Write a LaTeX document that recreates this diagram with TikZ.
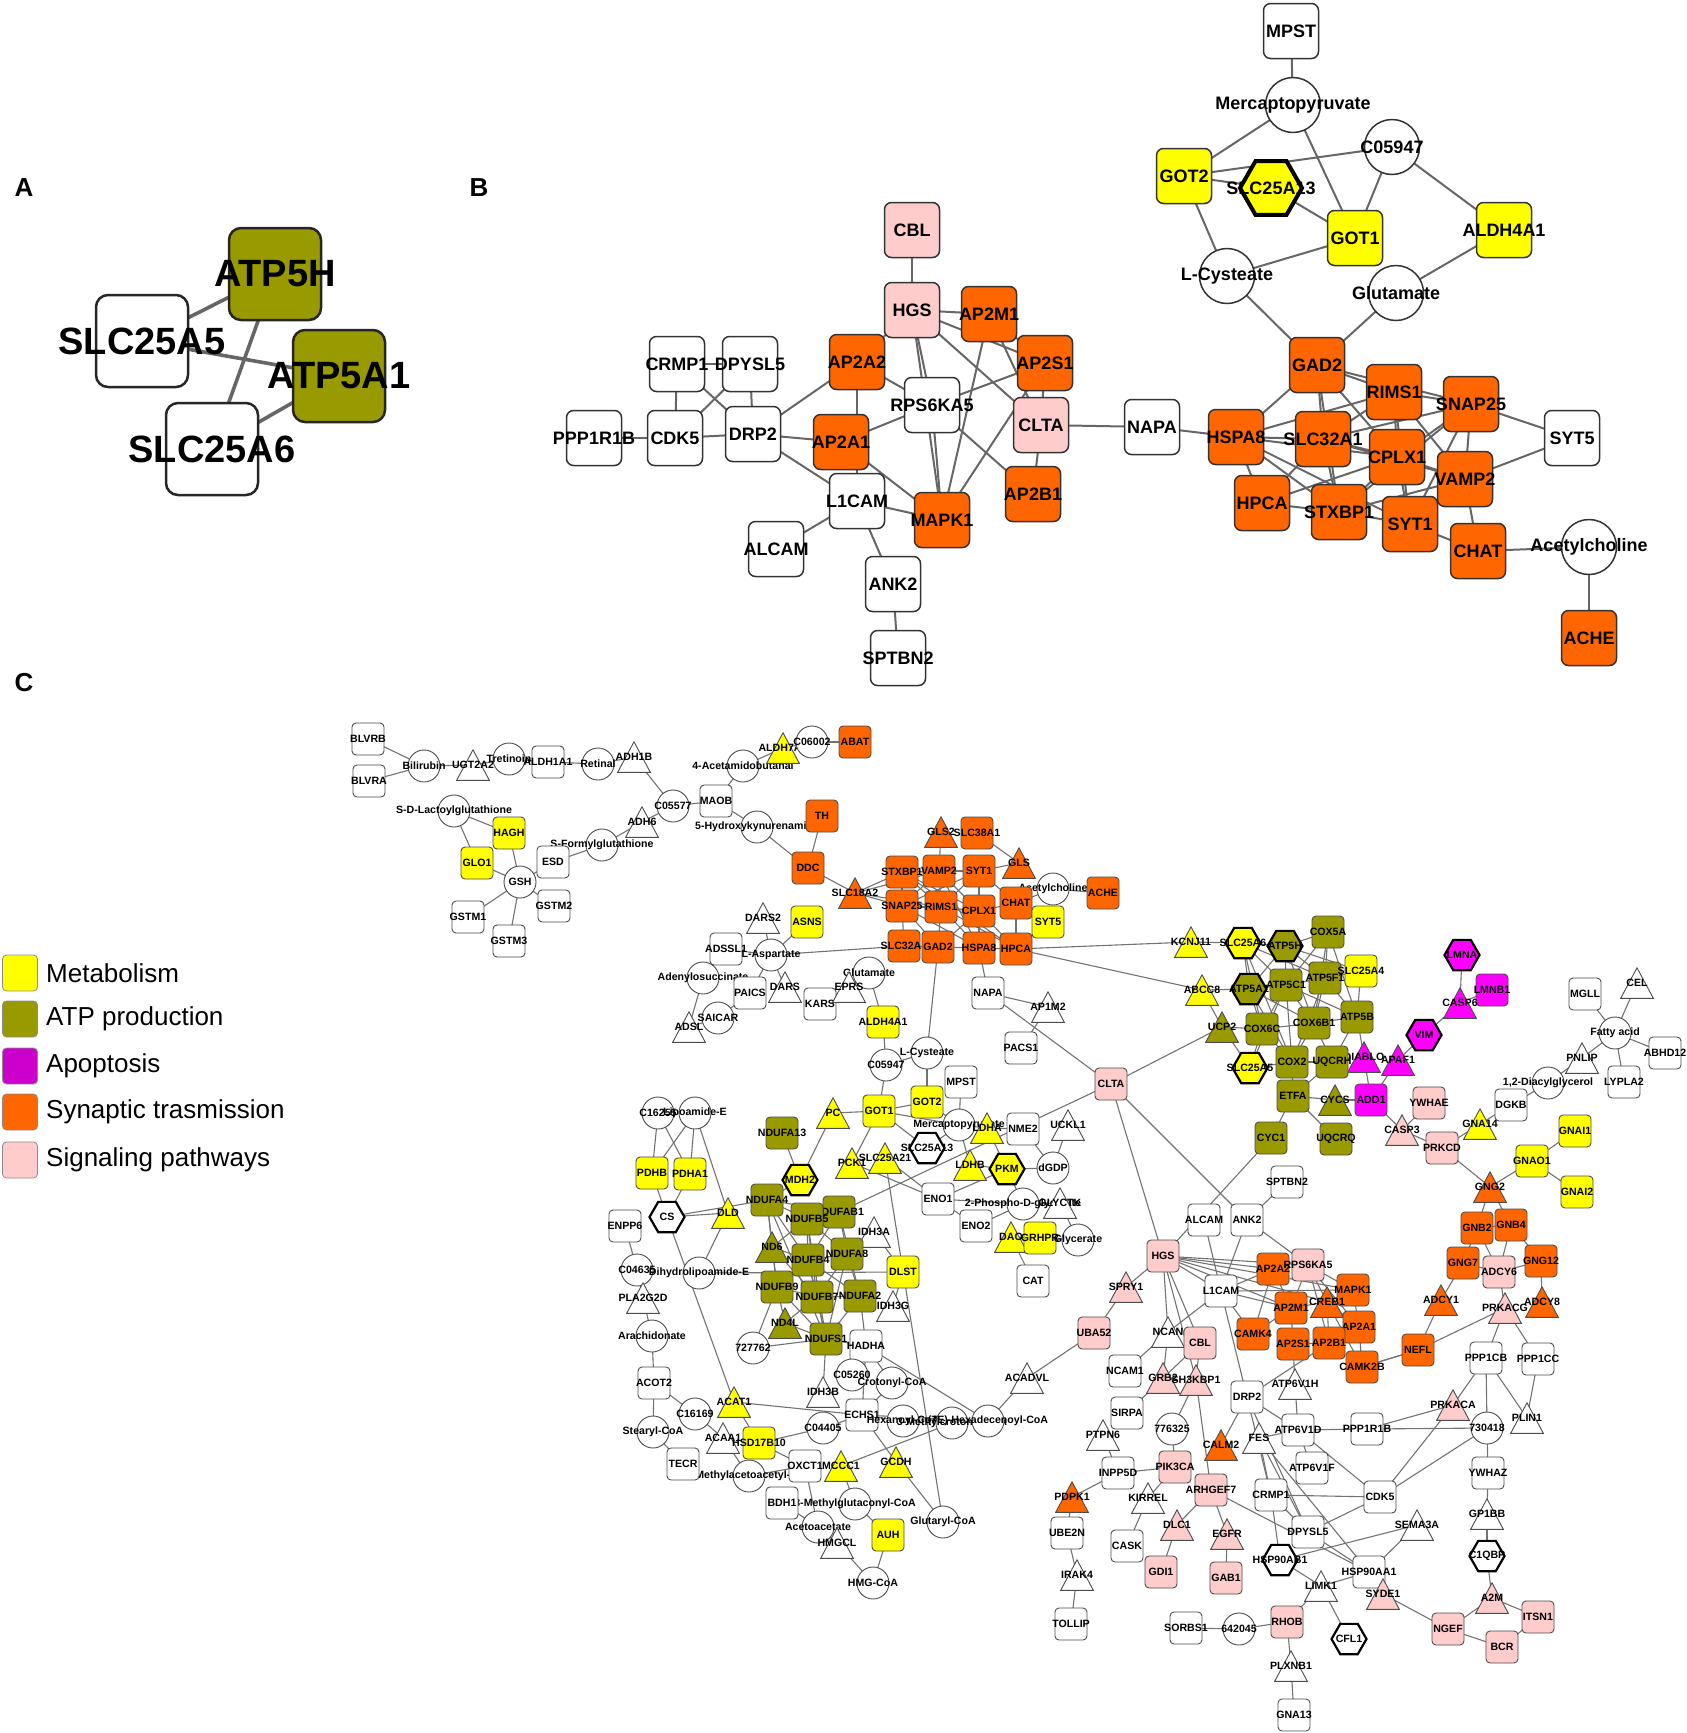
\documentclass[tikz,border=0pt]{standalone}
\usepackage{fontspec}
\setmainfont{Liberation Sans}
\usetikzlibrary{shapes.geometric}
\pgfdeclarelayer{back}\pgfdeclarelayer{bg}\pgfsetlayers{back,bg,main}
\definecolor{cY}{RGB}{255,255,0}
\definecolor{olv}{RGB}{153,153,0}
\definecolor{cM}{RGB}{255,0,255}
\definecolor{cLM}{RGB}{204,0,204}
\definecolor{cS}{RGB}{255,102,0}
\definecolor{cP}{RGB}{255,204,204}
\newcommand\zl[1]{\hbox to 0pt{\hss#1\hss}}
\tikzset{
 cf/.style={font=\fontsize{10.6pt}{11pt}\selectfont\bfseries, inner sep=0pt, text=black},
 cbx/.style={cf, rectangle, rounded corners=4pt, minimum width=32pt, minimum height=32pt, draw=black!70, line width=0.9pt, fill=#1},
 cci/.style={cf, circle, minimum size=32pt, draw=black!70, line width=0.9pt, fill=#1},
 chx/.style={cf, regular polygon, regular polygon sides=6, minimum size=35pt, draw=black, line width=2.2pt, fill=#1},
 ctr/.style={cf, rectangle, minimum width=34pt, minimum height=32pt,
   path picture={\draw[black!70, line width=0.9pt, fill=#1]
     ([xshift=0.6pt,yshift=0.6pt]path picture bounding box.south west) --
     ([xshift=-0.6pt,yshift=0.6pt]path picture bounding box.south east) --
     ([yshift=-0.8pt]path picture bounding box.north) -- cycle;}},
 bf/.style={font=\fontsize{18pt}{19pt}\selectfont\bfseries, inner sep=0pt, text=black},
 bbx/.style={bf, rectangle, rounded corners=7pt, minimum size=55pt, draw=black!80, line width=1.5pt, fill=#1},
 bci/.style={bf, circle, minimum size=55pt, draw=black!80, line width=1.5pt, fill=#1},
 bhx/.style={bf, regular polygon, regular polygon sides=6, minimum size=62pt, draw=black, line width=4pt, fill=#1},
 abx/.style={rectangle, rounded corners=12pt, minimum size=92pt, draw=black!85, line width=2.5pt, fill=#1, inner sep=0pt, font=\fontsize{38pt}{38pt}\selectfont\bfseries},
 ed/.style={draw=black!55, line width=1.1pt},
 edb/.style={draw=black!60, line width=2pt},
 eda/.style={draw=black!60, line width=3.6pt},
 lgb/.style={rectangle, rounded corners=4pt, minimum width=35pt, minimum height=36pt, draw=black!45, line width=0.8pt, fill=#1},
 lgt/.style={anchor=west, inner sep=0pt, font=\fontsize{26pt}{27pt}\selectfont},
 pl/.style={font=\fontsize{26pt}{26pt}\selectfont\bfseries, inner sep=0pt}
}
\newcommand\Cbx[4][white]{\node[cbx=#1] (#2) at (#3) {\zl{#4}};}
\newcommand\Cci[4][white]{\node[cci=#1] (#2) at (#3) {\zl{#4}};}
\newcommand\Ctr[4][white]{\node[ctr=#1] (#2) at (#3) {\zl{#4}};}
\newcommand\Chx[4][white]{\node[chx=#1] (#2) at (#3) {\zl{#4}};}
\newcommand\Bbx[4][white]{\node[bbx=#1] (#2) at (#3) {\zl{#4}};}
\newcommand\Bci[4][white]{\node[bci=#1] (#2) at (#3) {\zl{#4}};}
\newcommand\Bhx[4][white]{\node[bhx=#1] (#2) at (#3) {\zl{#4}};}
\newcommand\Eg[2][ed]{\begin{pgfonlayer}{bg}\foreach \a/\b in {#2}{\draw[#1] (\a.center) -- (\b.center);}\end{pgfonlayer}}
\begin{document}
\begin{tikzpicture}[x=1pt,y=-1pt]
\begin{pgfonlayer}{back}
\fill[white] (0,0) rectangle (1687,1733);
\end{pgfonlayer}
\useasboundingbox (0,0) rectangle (1687,1733);
% panel labels
\node[pl] (labA) at (24,188) {A};
\node[pl] (labB) at (479,188) {B};
\node[pl] (labC) at (24,683) {C};
% ================= Panel A
\node[abx=white] (aslc5) at (142,341) {\zl{SLC25A5}};
\node[abx=olv] (aatp5h) at (275,274) {\zl{ATP5H}};
\node[abx=white] (aslc6) at (212,449) {\zl{SLC25A6}};
\node[abx=olv] (aatp5a1) at (339,376) {\zl{ATP5A1}};
\Eg[eda]{aslc5/aatp5h, aslc5/aatp5a1, aatp5h/aslc6, aslc6/aatp5a1}
% ================= Panel B
\Bbx{bmpst}{1291,31}{MPST}
\Bci{bmerc}{1293,105}{Mercaptopyruvate}
\Bci{bc05947}{1392,147}{C05947}
\Bbx[cY]{bgot2}{1184,176}{GOT2}
\Bhx[cY]{bslc25a13}{1271,188}{SLC25A13}
\Bbx[cY]{bgot1}{1355,238}{GOT1}
\Bbx[cY]{baldh4a1}{1504,230}{ALDH4A1}
\Bci{blcys}{1227,276}{L-Cysteate}
\Bci{bglut}{1396,293}{Glutamate}
\Bbx[cP]{bcbl}{912,230}{CBL}
\Bbx[cP]{bhgs}{912,310}{HGS}
\Bbx[cS]{bap2m1}{989,314}{AP2M1}
\Bbx[cS]{bap2a2}{857,362}{AP2A2}
\Bbx[cS]{bap2s1}{1045,363}{AP2S1}
\Bbx{bcrmp1}{677,364}{CRMP1}
\Bbx{bdpysl5}{750,364}{DPYSL5}
\Bbx{brps6ka5}{932,405}{RPS6KA5}
\Bbx[cP]{bclta}{1041,425}{CLTA}
\Bbx{bnapa}{1152,427}{NAPA}
\Bbx{bppp1r1b}{594,438}{PPP1R1B}
\Bbx{bcdk5}{675,438}{CDK5}
\Bbx{bdrp2}{753,434}{DRP2}
\Bbx[cS]{bap2a1}{841,442}{AP2A1}
\Bbx{bl1cam}{857,501}{L1CAM}
\Bbx[cS]{bmapk1}{942,520}{MAPK1}
\Bbx[cS]{bap2b1}{1033,494}{AP2B1}
\Bbx{balcam}{776,549}{ALCAM}
\Bbx{bank2}{893,584}{ANK2}
\Bbx{bsptbn2}{898,658}{SPTBN2}
\Bbx[cS]{bgad2}{1317,365}{GAD2}
\Bbx[cS]{brims1}{1394,392}{RIMS1}
\Bbx[cS]{bsnap25}{1471,404}{SNAP25}
\Bbx[cS]{bhspa8}{1236,437}{HSPA8}
\Bbx[cS]{bslc32a1}{1323,439}{SLC32A1}
\Bbx[cS]{bcplx1}{1397,457}{CPLX1}
\Bbx[cS]{bvamp2}{1465,479}{VAMP2}
\Bbx{bsyt5}{1572,438}{SYT5}
\Bbx[cS]{bhpca}{1262,503}{HPCA}
\Bbx[cS]{bstxbp1}{1339,512}{STXBP1}
\Bbx[cS]{bsyt1}{1410,524}{SYT1}
\Bbx[cS]{bchat}{1478,551}{CHAT}
\Bci{bach}{1589,547}{Acetylcholine}
\Bbx[cS]{bache}{1589,638}{ACHE}
\Eg[edb]{bmpst/bmerc, bmerc/bgot2, bmerc/bgot1, bgot2/bc05947, bc05947/bgot1, bc05947/baldh4a1,
 bgot2/bslc25a13, bslc25a13/bgot1, bgot2/blcys, blcys/bgot1, baldh4a1/bglut, blcys/bgad2, bglut/bgad2,
 bcbl/bhgs, bhgs/bap2a2, bhgs/bap2m1, bhgs/bap2s1, bhgs/bclta, bhgs/bmapk1, bhgs/brps6ka5,
 bap2m1/bap2s1, bap2m1/bmapk1, bap2m1/bclta, bap2a2/bdrp2, bap2a2/brps6ka5, bap2a2/bl1cam,
 bap2s1/bclta, bap2s1/bmapk1, bap2s1/brps6ka5, brps6ka5/bmapk1, brps6ka5/bap2b1, brps6ka5/bap2a1,
 bclta/bnapa, bclta/bap2b1, bdrp2/bcrmp1, bdrp2/bdpysl5, bdrp2/bcdk5, bdrp2/bap2a1, bdrp2/bl1cam,
 bcrmp1/bdpysl5, bcrmp1/bcdk5, bcdk5/bppp1r1b, bdpysl5/bcdk5, bap2a1/bmapk1,
 bl1cam/balcam, bl1cam/bank2, bl1cam/bmapk1, bank2/bsptbn2, bnapa/bhspa8,
 bgad2/brims1, bgad2/bhspa8, bgad2/bslc32a1, bgad2/bcplx1, bgad2/bsnap25, bgad2/bstxbp1,
 brims1/bsnap25, brims1/bslc32a1, brims1/bcplx1, brims1/bvamp2, brims1/bhspa8, brims1/bsyt1,
 bsnap25/bcplx1, bsnap25/bvamp2, bsnap25/bslc32a1, bsnap25/bsyt1, bsnap25/bsyt5, bsnap25/bstxbp1,
 bhspa8/bslc32a1, bhspa8/bhpca, bhspa8/bstxbp1, bhspa8/bcplx1, bhspa8/bsyt1,
 bslc32a1/bcplx1, bslc32a1/bstxbp1, bslc32a1/bhpca, bslc32a1/bvamp2,
 bcplx1/bvamp2, bcplx1/bstxbp1, bcplx1/bsyt1, bcplx1/bhpca, bvamp2/bsyt1, bvamp2/bstxbp1,
 bvamp2/bsyt5, bvamp2/bchat, bhpca/bstxbp1, bstxbp1/bsyt1, bsyt1/bchat, bchat/bach, bach/bache}
% ================= Legend
\node[lgb=cY] (lg1) at (20,973) {};
\node[lgt] (lt1) at (46,973) {Metabolism};
\node[lgb=olv] (lg2) at (20,1019) {};
\node[lgt] (lt2) at (46,1019) {ATP production};
\node[lgb=cLM] (lg3) at (20,1066) {};
\node[lgt] (lt3) at (46,1066) {Apoptosis};
\node[lgb=cS] (lg4) at (20,1112) {};
\node[lgt] (lt4) at (46,1112) {Synaptic trasmission};
\node[lgb=cP] (lg5) at (20,1160) {};
\node[lgt] (lt5) at (46,1160) {Signaling pathways};
% ================= Panel C
% top-left metabolism
\Cbx{blvrb}{368,739}{BLVRB}
\Cbx{blvra}{369,781}{BLVRA}
\Cci{bilirubin}{424,766}{Bilirubin}
\Cci{tretin}{509,759}{Tretinoin}
\Ctr{ugt}{473,765}{UGT2A2}
\Cbx{aldh1a1}{548,762}{ALDH1A1}
\Cci{retinal}{598,764}{Retinal}
\Ctr{adh1b}{634,757}{ADH1B}
\Cci{c05577}{673,806}{C05577}
\Cbx{maob}{716,801}{MAOB}
\Cci{acetamido}{743,766}{4-Acetamidobutanal}
\Ctr[cY]{aldh7}{783,748}{ALDH7A1}
\Cci{c06002}{812,742}{C06002}
\Cbx[cS]{abat}{855,742}{ABAT}
\Cci{hydroxyk}{757,827}{5-Hydroxykynurenamine}
\Cbx[cS]{th}{822,816}{TH}
\Ctr{adh6}{642,822}{ADH6}
\Cci{sformyl}{602,845}{S-Formylglutathione}
\Cbx{esd}{553,862}{ESD}
\Cci{sdlact}{454,811}{S-D-Lactoylglutathione}
\Cbx[cY]{hagh}{509,833}{HAGH}
\Cbx[cY]{glo1}{477,863}{GLO1}
\Cci{gsh}{520,882}{GSH}
\Cbx{gstm1}{468,917}{GSTM1}
\Cbx{gstm2}{554,906}{GSTM2}
\Cbx{gstm3}{509,941}{GSTM3}
% synaptic cluster
\Cbx[cS]{ddc}{808,868}{DDC}
\Ctr[cS]{slc18a2}{855,893}{SLC18A2}
\Ctr[cS]{gls2}{941,832}{GLS2}
\Cbx[cS]{slc38a1}{977,833}{SLC38A1}
\Cbx[cS]{stxbp1c}{902,872}{STXBP1}
\Cbx[cS]{vamp2c}{939,871}{VAMP2}
\Cbx[cS]{syt1c}{979,871}{SYT1}
\Ctr[cS]{gls}{1019,863}{GLS}
\Cci{achc}{1053,889}{Acetylcholine}
\Cbx[cS]{achec}{1103,893}{ACHE}
\Cbx[cS]{snap25c}{902,906}{SNAP25}
\Cbx[cS]{rims1c}{941,907}{RIMS1}
\Cbx[cS]{cplx1c}{979,911}{CPLX1}
\Cbx[cS]{chatc}{1016,903}{CHAT}
\Cbx[cY]{syt5c}{1048,922}{SYT5}
\Cbx[cS]{slc32a1c}{904,946}{SLC32A1}
\Cbx[cS]{gad2c}{938,947}{GAD2}
\Cbx[cS]{hspa8c}{979,948}{HSPA8}
\Cbx[cS]{hpcac}{1016,949}{HPCA}
\Cbx{napac}{988,993}{NAPA}
\Ctr{ap1m2}{1048,1007}{AP1M2}
\Cbx{pacs1}{1021,1048}{PACS1}
% amino acids
\Ctr{dars2}{763,918}{DARS2}
\Cbx[cY]{asns}{807,922}{ASNS}
\Cbx{adssl1}{726,949}{ADSSL1}
\Cci{laspartate}{771,955}{L-Aspartate}
\Cci{adenylo}{703,978}{Adenylosuccinate}
\Cbx{paics}{750,993}{PAICS}
\Ctr{dars}{785,987}{DARS}
\Cci{saicar}{718,1018}{SAICAR}
\Ctr{adsl}{689,1027}{ADSL}
\Cci{glutc}{869,973}{Glutamate}
\Cbx{kars}{820,1004}{KARS}
\Ctr{eprs}{849,987}{EPRS}
\Cbx[cY]{aldh4a1c}{883,1022}{ALDH4A1}
\Cci{lcysc}{927,1053}{L-Cysteate}
% middle metabolism
\Cci{c05947c}{886,1065}{C05947}
\Cbx{mpstc}{961,1082}{MPST}
\Cbx[cY]{got2c}{927,1102}{GOT2}
\Cbx[cY]{got1c}{879,1111}{GOT1}
\Ctr[cY]{pc}{833,1113}{PC}
\Cci{mercc}{959,1125}{Mercaptopyruvate}
\Ctr[cY]{ldha}{987,1128}{LDHA}
\Cbx{nme2}{1023,1129}{NME2}
\Ctr{uckl1}{1068,1125}{UCKL1}
\Cbx[olv]{ndufa13}{782,1133}{NDUFA13}
\Chx{slc25a13c}{927,1148}{SLC25A13}
\Ctr[cY]{pck1}{852,1163}{PCK1}
\Ctr[cY]{slc25a21}{885,1158}{SLC25A21}
\Ctr[cY]{ldhb}{970,1165}{LDHB}
\Chx[cY]{pkm}{1007,1169}{PKM}
\Cci{dgdp}{1053,1168}{dGDP}
\Cci{c16255}{658,1113}{C16255}
\Cci{lipoamide}{695,1113}{Lipoamide-E}
\Cbx[cY]{pdhb}{652,1173}{PDHB}
\Cbx[cY]{pdha1}{690,1174}{PDHA1}
\Chx[cY]{mdh2}{800,1180}{MDH2}
\Cbx[olv]{ndufa4}{767,1200}{NDUFA4}
\Chx{cs}{667,1217}{CS}
\Ctr[cY]{dld}{728,1213}{DLD}
\Cbx[olv]{ndufab1}{839,1212}{NDUFAB1}
\Cbx[olv]{ndufb5}{807,1219}{NDUFB5}
\Cbx{enpp6}{625,1226}{ENPP6}
\Cbx{eno1}{938,1199}{ENO1}
\Cci{phospho}{1023,1204}{2-Phospho-D-glycerate}
\Cbx{eno2}{976,1226}{ENO2}
\Ctr{glyctk}{1060,1203}{GLYCTK}
\Ctr[cY]{dao}{1011,1237}{DAO}
\Cbx[cY]{grhpr}{1040,1238}{GRHPR}
\Cci{glycerate}{1078,1240}{Glycerate}
\Cbx{cat}{1033,1281}{CAT}
\Ctr{idh3a}{874,1232}{IDH3A}
\Ctr[olv]{nd6}{772,1247}{ND6}
\Cbx[olv]{ndufa8}{847,1254}{NDUFA8}
\Cbx[olv]{ndufb4}{808,1260}{NDUFB4}
\Cbx[cY]{dlst}{903,1272}{DLST}
\Cci{c04635}{637,1270}{C04635}
\Cci{dihydro}{699,1273}{Dihydrolipoamide-E}
\Ctr{pla2g2d}{643,1298}{PLA2G2D}
\Cbx[olv]{ndufb9}{777,1287}{NDUFB9}
\Cbx[olv]{ndufb7}{817,1297}{NDUFB7}
\Cbx[olv]{ndufa2}{860,1296}{NDUFA2}
\Ctr{idh3g}{893,1306}{IDH3G}
\Cci{arachid}{652,1336}{Arachidonate}
\Ctr[olv]{nd4l}{785,1323}{ND4L}
\Cbx[olv]{ndufs1}{826,1339}{NDUFS1}
\Cbx{hadha}{866,1346}{HADHA}
\Cci{c727762}{753,1348}{727762}
\Ctr{acadvl}{1027,1378}{ACADVL}
\Cbx{acot2}{654,1383}{ACOT2}
\Cci{c05260}{852,1375}{C05260}
\Cci{crotonyl}{892,1383}{Crotonyl-CoA}
\Ctr{idh3b}{823,1392}{IDH3B}
\Ctr[cY]{acat1}{734,1402}{ACAT1}
\Cci{c16169}{695,1414}{C16169}
\Cci{stearyl}{653,1432}{Stearyl-CoA}
\Ctr{acaa1}{723,1438}{ACAA1}
\Cbx[cY]{hsd17b10}{759,1443}{HSD17B10}
\Cci{c04405}{823,1428}{C04405}
\Cbx{echs1}{862,1415}{ECHS1}
\Cci{hexanoyl}{903,1421}{Hexanoyl-CoA}
\Cci{methylcrot}{952,1423}{3-Methylcrotonyl-CoA}
\Cci{hexadec}{988,1421}{(7E)-Hexadecenoyl-CoA}
\Cci{methylaceto}{749,1476}{2-Methylacetoacetyl-CoA}
\Cbx{tecr}{683,1464}{TECR}
\Cbx{oxct1}{805,1466}{OXCT1}
\Ctr[cY]{mccc1}{841,1466}{MCCC1}
\Ctr[cY]{gcdh}{896,1462}{GCDH}
\Cci{methylglut}{855,1504}{3-Methylglutaconyl-CoA}
\Cbx{bdh1}{782,1503}{BDH1}
\Cci{acetoacetate}{818,1527}{Acetoacetate}
\Ctr{hmgcl}{837,1543}{HMGCL}
\Cbx[cY]{auh}{888,1535}{AUH}
\Cci{glutaryl}{943,1522}{Glutaryl-CoA}
\Cci{hmgcoa}{873,1583}{HMG-CoA}
% ATP / apoptosis cluster
\Ctr[cY]{kcnj11}{1191,942}{KCNJ11}
\Chx[cY]{slc25a6c}{1243,943}{SLC25A6}
\Chx[olv]{atp5hc}{1285,946}{ATP5H}
\Cbx[olv]{cox5a}{1328,932}{COX5A}
\Ctr[cY]{abcc8}{1202,990}{ABCC8}
\Chx[olv]{atp5a1c}{1249,989}{ATP5A1}
\Cbx[olv]{atp5c1}{1286,985}{ATP5C1}
\Cbx[olv]{atp5f1}{1325,978}{ATP5F1}
\Cbx[cY]{slc25a4}{1361,971}{SLC25A4}
\Ctr[olv]{ucp2}{1222,1027}{UCP2}
\Cbx[olv]{cox6c}{1262,1029}{COX6C}
\Cbx[olv]{cox6b1}{1314,1023}{COX6B1}
\Cbx[olv]{atp5b}{1357,1017}{ATP5B}
\Chx[cY]{slc25a5c}{1250,1068}{SLC25A5}
\Cbx[olv]{cox2}{1292,1062}{COX2}
\Ctr[cM]{diablo}{1364,1057}{DIABLO}
\Cbx[olv]{uqcrh}{1332,1062}{UQCRH}
\Ctr[cM]{apaf1}{1398,1060}{APAF1}
\Cbx[olv]{etfa}{1293,1096}{ETFA}
\Ctr[olv]{cycs}{1335,1100}{CYCS}
\Cbx[cM]{add1}{1371,1100}{ADD1}
\Cbx[olv]{cyc1}{1271,1138}{CYC1}
\Cbx[olv]{uqcrq}{1336,1139}{UQCRQ}
\Chx[cM]{lmna}{1462,955}{LMNA}
\Cbx[cM]{lmnb1}{1492,990}{LMNB1}
\Ctr[cM]{casp6}{1460,1003}{CASP6}
\Chx[cM]{vim}{1424,1035}{VIM}
\Cbx[cP]{ywhae}{1429,1103}{YWHAE}
\Ctr[cP]{casp3}{1402,1130}{CASP3}
\Cbx[cP]{prkcd}{1442,1148}{PRKCD}
\Cbx{dgkb}{1511,1105}{DGKB}
\Ctr[cY]{gna14}{1480,1124}{GNA14}
\Cci{dag}{1548,1083}{1,2-Diacylglycerol}
\Ctr{pnlip}{1582,1058}{PNLIP}
\Cbx{mgll}{1585,994}{MGLL}
\Ctr{cel}{1637,983}{CEL}
\Cci{fatty}{1615,1033}{Fatty acid}
\Cbx{abhd12}{1665,1053}{ABHD12}
\Cbx{lypla2}{1624,1082}{LYPLA2}
\Cbx[cY]{gnai1}{1575,1131}{GNAI1}
\Cbx[cY]{gnao1}{1532,1161}{GNAO1}
\Cbx[cY]{gnai2}{1577,1192}{GNAI2}
\Ctr[cS]{gng2}{1490,1187}{GNG2}
\Cbx[cS]{gnb2}{1477,1228}{GNB2}
\Cbx[cS]{gnb4}{1511,1225}{GNB4}
\Cbx[cS]{gng7}{1463,1263}{GNG7}
\Cbx[cP]{adcy6}{1499,1272}{ADCY6}
\Cbx[cS]{gng12}{1541,1261}{GNG12}
\Ctr[cS]{adcy1}{1441,1300}{ADCY1}
\Ctr[cP]{prkacg}{1505,1308}{PRKACG}
\Ctr[cS]{adcy8}{1542,1302}{ADCY8}
\Cbx[cS]{nefl}{1418,1350}{NEFL}
\Cbx{ppp1cb}{1486,1358}{PPP1CB}
\Cbx{ppp1cc}{1538,1359}{PPP1CC}
% signaling cluster
\Cbx[cP]{cltac}{1111,1084}{CLTA}
\Cbx{sptbn2c}{1287,1182}{SPTBN2}
\Cbx{alcamc}{1204,1220}{ALCAM}
\Cbx{ank2c}{1247,1220}{ANK2}
\Cbx[cP]{hgsc}{1163,1256}{HGS}
\Cbx[cS]{ap2a2c}{1273,1269}{AP2A2}
\Cbx[cP]{rps6ka5c}{1308,1265}{RPS6KA5}
\Cbx{l1camc}{1221,1291}{L1CAM}
\Ctr[cP]{spry1}{1126,1287}{SPRY1}
\Cbx[cS]{mapk1c}{1353,1290}{MAPK1}
\Ctr[cS]{creb1}{1327,1302}{CREB1}
\Cbx[cS]{ap2m1c}{1291,1308}{AP2M1}
\Cbx[cS]{ap2a1c}{1359,1327}{AP2A1}
\Cbx[cP]{uba52}{1094,1333}{UBA52}
\Ctr{ncan}{1168,1332}{NCAN}
\Cbx[cP]{cblc}{1200,1343}{CBL}
\Cbx[cS]{camk4}{1253,1334}{CAMK4}
\Cbx[cS]{ap2s1c}{1293,1344}{AP2S1}
\Cbx[cS]{ap2b1c}{1329,1343}{AP2B1}
\Cbx[cS]{camk2b}{1362,1367}{CAMK2B}
\Cbx{ncam1}{1125,1371}{NCAM1}
\Ctr[cP]{grb2}{1163,1378}{GRB2}
\Ctr[cP]{sh3kbp1}{1196,1380}{SH3KBP1}
\Ctr{atp6v1h}{1295,1384}{ATP6V1H}
\Cbx{drp2c}{1247,1397}{DRP2}
\Cbx{sirpa}{1127,1413}{SIRPA}
\Cci{c776325}{1172,1429}{776325}
\Ctr{ptpn6}{1103,1435}{PTPN6}
\Ctr[cS]{calm2}{1221,1445}{CALM2}
\Ctr{fes}{1259,1438}{FES}
\Cbx{atp6v1d}{1298,1430}{ATP6V1D}
\Cbx{ppp1r1bc}{1367,1429}{PPP1R1B}
\Ctr[cP]{prkaca}{1453,1405}{PRKACA}
\Cci{c730418}{1487,1428}{730418}
\Ctr{plin1}{1527,1418}{PLIN1}
\Cbx{inpp5d}{1118,1473}{INPP5D}
\Cbx[cP]{pik3ca}{1175,1467}{PIK3CA}
\Cbx{atp6v1f}{1312,1468}{ATP6V1F}
\Cbx{ywhaz}{1488,1473}{YWHAZ}
\Ctr[cS]{pdpk1}{1072,1497}{PDPK1}
\Ctr{kirrel}{1148,1498}{KIRREL}
\Cbx[cP]{arhgef7}{1211,1490}{ARHGEF7}
\Cbx{crmp1c}{1271,1495}{CRMP1}
\Cbx{cdk5c}{1380,1497}{CDK5}
\Ctr{gp1bb}{1487,1514}{GP1BB}
\Ctr{sema3a}{1417,1525}{SEMA3A}
\Cbx{ube2n}{1067,1533}{UBE2N}
\Ctr[cP]{dlc1}{1177,1525}{DLC1}
\Ctr[cP]{egfr}{1227,1534}{EGFR}
\Cbx{dpysl5c}{1308,1532}{DPYSL5}
\Cbx{cask}{1127,1546}{CASK}
\Chx{c1qbp}{1487,1556}{C1QBP}
\Chx{hsp90ab1}{1280,1560}{HSP90AB1}
\Cbx{hsp90aa1}{1369,1572}{HSP90AA1}
\Cbx[cP]{gdi1}{1161,1572}{GDI1}
\Cbx[cP]{gab1}{1226,1578}{GAB1}
\Ctr{irak4}{1077,1575}{IRAK4}
\Ctr{limk1}{1321,1586}{LIMK1}
\Ctr[cP]{syde1}{1383,1594}{SYDE1}
\Ctr[cP]{a2m}{1492,1598}{A2M}
\Cbx[cP]{itsn1}{1538,1617}{ITSN1}
\Cbx[cP]{ngef}{1448,1629}{NGEF}
\Cbx[cP]{bcr}{1502,1647}{BCR}
\Cbx{tollip}{1071,1624}{TOLLIP}
\Cbx{sorbs1}{1186,1628}{SORBS1}
\Cci{c642045}{1239,1629}{642045}
\Cbx[cP]{rhob}{1287,1622}{RHOB}
\Chx{cfl1}{1349,1639}{CFL1}
\Ctr{plxnb1}{1291,1666}{PLXNB1}
\Cbx{gna13}{1294,1715}{GNA13}
% ---------- panel C edges
\Eg{blvrb/bilirubin, blvra/bilirubin, bilirubin/ugt, ugt/tretin, tretin/aldh1a1, aldh1a1/retinal,
 retinal/adh1b, adh1b/c05577, c05577/maob, maob/acetamido, acetamido/aldh7, aldh7/c06002, c06002/abat,
 maob/hydroxyk, hydroxyk/ddc, th/ddc, c05577/adh6, adh6/sformyl, sformyl/esd, esd/gsh, gsh/hagh,
 gsh/glo1, sdlact/hagh, sdlact/glo1, gsh/gstm1, gsh/gstm2, gsh/gstm3}
\Eg{ddc/slc18a2, slc18a2/stxbp1c, slc18a2/snap25c, slc18a2/vamp2c, slc18a2/rims1c, gls2/vamp2c,
 slc38a1/gls, syt1c/gls, stxbp1c/vamp2c, stxbp1c/snap25c, stxbp1c/rims1c, stxbp1c/cplx1c, stxbp1c/syt1c,
 vamp2c/syt1c, vamp2c/snap25c, vamp2c/rims1c, vamp2c/cplx1c, vamp2c/hspa8c, syt1c/cplx1c, syt1c/snap25c,
 syt1c/rims1c, syt1c/chatc, snap25c/rims1c, snap25c/slc32a1c, snap25c/cplx1c, snap25c/hspa8c,
 snap25c/gad2c, rims1c/cplx1c, rims1c/gad2c, rims1c/hspa8c, rims1c/hpcac, cplx1c/hspa8c, cplx1c/hpcac,
 cplx1c/chatc, cplx1c/gad2c, slc32a1c/gad2c, gad2c/hspa8c, hspa8c/hpcac, chatc/achc, achc/achec,
 chatc/hpcac, chatc/syt5c, hspa8c/napac, napac/ap1m2, ap1m2/pacs1, napac/cltac, hpcac/kcnj11,
 hpcac/abcc8, gad2c/lcysc, slc32a1c/laspartate, stxbp1c/hpcac}
\Eg{dars2/laspartate, adssl1/laspartate, laspartate/asns, laspartate/paics, laspartate/dars,
 adenylo/adssl1, adenylo/adsl, adsl/saicar, saicar/paics, glutc/eprs, eprs/kars, glutc/aldh4a1c,
 aldh4a1c/c05947c}
\Eg{c05947c/lcysc, c05947c/got1c, lcysc/got2c, got2c/mercc, mpstc/mercc, got1c/got2c, got1c/pc,
 got1c/slc25a13c, got1c/pck1, got1c/mercc, pc/mdh2, ndufa13/mdh2, mercc/ldha, mercc/slc25a13c,
 ldha/pkm, ldha/nme2, ldhb/pkm, ldhb/mercc, pkm/dgdp, nme2/dgdp, uckl1/dgdp, pkm/phospho, pkm/eno1,
 phospho/eno1, phospho/eno2, phospho/glyctk, glyctk/glycerate, glycerate/grhpr, grhpr/dao, dao/cat,
 eno1/eno2, pck1/eno1, slc25a21/eno1, slc25a21/glutaryl, idh3a/dlst, idh3g/dlst, ndufab1/cltac,
 c16255/pdhb, c16255/pdha1, lipoamide/pdhb, lipoamide/pdha1, lipoamide/dld, pdhb/cs, pdha1/cs,
 cs/dld, cs/ndufa4, cs/acat1, dld/dihydro, dihydro/dlst, c04635/enpp6, c04635/pla2g2d,
 pla2g2d/arachid, arachid/acot2, acot2/stearyl, acot2/c16169, stearyl/tecr, c16169/acaa1,
 acaa1/methylaceto, acat1/hsd17b10, acat1/echs1, hsd17b10/c04405, hsd17b10/oxct1, oxct1/acetoacetate,
 oxct1/methylaceto, bdh1/acetoacetate, acetoacetate/hmgcl, hmgcl/hmgcoa, hmgcoa/auh, auh/methylglut,
 methylglut/mccc1, mccc1/methylcrot, echs1/gcdh, gcdh/glutaryl, echs1/c04405, echs1/hexanoyl,
 echs1/hexadec, echs1/crotonyl, hadha/crotonyl, hadha/c05260, hadha/hexadec, hadha/echs1,
 acadvl/hexadec, uba52/acadvl, c727762/ndufs1, c727762/ndufb9, ndufs1/hadha, ndufs1/idh3b}
\Eg{mdh2/ndufa4, ndufa4/ndufb5, ndufa4/nd6, ndufa4/ndufb4, ndufa4/ndufab1, ndufa4/ndufb9,
 ndufb5/ndufab1, ndufb5/ndufb4, ndufb5/nd6, ndufb5/ndufa8, ndufb5/ndufb7, ndufab1/ndufa8,
 ndufab1/ndufb4, ndufab1/ndufa2, nd6/ndufb4, nd6/ndufb9, nd6/ndufb7, ndufb4/ndufa8, ndufb4/ndufb9,
 ndufb4/ndufb7, ndufb4/ndufa2, ndufb4/ndufs1, ndufa8/ndufa2, ndufa8/ndufb7, ndufa8/ndufs1,
 ndufb9/ndufb7, ndufb9/nd4l, ndufb9/ndufs1, ndufb7/ndufa2, ndufb7/nd4l, ndufb7/ndufs1,
 ndufa2/ndufs1, nd4l/ndufs1, ndufa2/hadha, ndufa4/ndufs1, ndufb5/ndufs1}
\Eg{kcnj11/slc25a6c, slc25a6c/atp5hc, slc25a6c/atp5c1, slc25a6c/atp5f1, slc25a6c/cox6c,
 slc25a6c/atp5a1c, slc25a6c/cox2, atp5hc/cox5a, atp5hc/atp5c1, atp5hc/atp5f1, atp5hc/atp5a1c,
 atp5hc/cox6b1, atp5hc/slc25a4, abcc8/atp5a1c, abcc8/ucp2, ucp2/cox6c, ucp2/slc25a5c, cltac/ucp2,
 atp5a1c/atp5c1, atp5a1c/cox6c, atp5a1c/cox2, atp5a1c/cox6b1, atp5c1/atp5f1, atp5c1/cox6b1,
 atp5c1/cox2, atp5c1/cox6c, atp5c1/atp5b, atp5c1/cox5a, cox5a/atp5f1, cox5a/atp5b, cox5a/cox6b1,
 atp5f1/slc25a4, slc25a4/atp5b, atp5f1/atp5b, atp5f1/cox6b1, atp5f1/cox2, cox6c/cox2, cox6c/cox6b1,
 cox6c/slc25a5c, cox6b1/cox2, cox6b1/uqcrh, cox6b1/atp5b, slc25a5c/cox2, slc25a5c/atp5c1,
 cox2/uqcrh, cox2/etfa, uqcrh/atp5b, uqcrh/etfa, etfa/cycs, etfa/cyc1, etfa/uqcrq, cycs/add1,
 diablo/add1, apaf1/add1, diablo/atp5b, apaf1/vim, vim/casp6, casp6/lmna, casp6/lmnb1,
 add1/casp3, casp3/ywhae, casp3/prkcd, prkcd/gna14, gna14/dgkb, dgkb/dag, dag/pnlip, pnlip/fatty,
 fatty/mgll, fatty/cel, fatty/abhd12, fatty/lypla2, prkcd/gng2, gng2/gnao1, gnao1/gnai1,
 gnao1/gnai2, gng2/gnb2, gng2/gnb4, gnb2/gng7, gnb2/adcy6, gnb4/adcy6, gnb4/gng12, gnb2/gnb4,
 gng7/adcy6, adcy6/gng12, gng7/adcy1, gng12/adcy8, adcy1/nefl, nefl/prkacg, prkacg/ppp1cb,
 prkacg/ppp1cc, nefl/camk2b, adcy6/prkacg, ppp1cb/c730418, ppp1cb/plin1, ppp1cc/plin1,
 ppp1cb/prkaca, cyc1/hgsc}
\Eg{cltac/hgsc, cltac/ank2c, hgsc/spry1, spry1/uba52, hgsc/cblc, hgsc/ncan, hgsc/sh3kbp1,
 hgsc/l1camc, hgsc/ap2a2c, hgsc/ap2m1c, hgsc/mapk1c, hgsc/creb1, hgsc/rps6ka5c, l1camc/alcamc,
 l1camc/ank2c, l1camc/ap2a2c, l1camc/ap2m1c, l1camc/mapk1c, l1camc/camk4, l1camc/ncan,
 l1camc/drp2c, ank2c/rps6ka5c, ank2c/sptbn2c, rps6ka5c/mapk1c, rps6ka5c/creb1, rps6ka5c/ap2m1c,
 rps6ka5c/ap2b1c, rps6ka5c/ap2a1c, ap2a2c/ap2m1c, ap2a2c/camk4, ap2m1c/ap2s1c, ap2m1c/creb1,
 ap2m1c/camk4, creb1/mapk1c, creb1/ap2a1c, creb1/camk2b, creb1/ap2b1c, ap2s1c/ap2b1c,
 ap2s1c/atp6v1h, ap2b1c/ap2a1c, ap2a1c/camk2b, camk2b/nefl, ap2a1c/mapk1c, drp2c/ap2b1c,
 ncan/ncam1, ncan/grb2, cblc/sh3kbp1, cblc/grb2, sh3kbp1/c776325, sh3kbp1/arhgef7,
 c776325/pik3ca, pik3ca/inpp5d, pik3ca/kirrel, inpp5d/ptpn6, inpp5d/pdpk1, grb2/sirpa,
 pdpk1/ube2n, ube2n/irak4, irak4/tollip, kirrel/cask, dlc1/gdi1, dlc1/arhgef7, arhgef7/egfr,
 egfr/gab1, arhgef7/hsp90aa1, calm2/drp2c, drp2c/crmp1c, drp2c/dpysl5c, drp2c/atp6v1d,
 atp6v1h/atp6v1d, fes/atp6v1d, fes/crmp1c, fes/dpysl5c, fes/hsp90aa1, atp6v1d/atp6v1f,
 atp6v1d/ppp1r1bc, atp6v1d/cdk5c, crmp1c/cdk5c, crmp1c/hsp90ab1, crmp1c/dpysl5c, dpysl5c/cdk5c,
 dpysl5c/hsp90aa1, hsp90ab1/sema3a, hsp90ab1/limk1, limk1/hsp90aa1, limk1/rhob, limk1/cfl1,
 hsp90aa1/sema3a, rhob/c642045, c642045/sorbs1, rhob/plxnb1, plxnb1/gna13, syde1/ngef,
 ngef/a2m, ngef/bcr, a2m/itsn1, bcr/itsn1, a2m/c1qbp, c1qbp/gp1bb, gp1bb/ywhaz, ywhaz/c730418,
 c730418/ppp1r1bc, c730418/cdk5c, prkaca/ppp1r1bc, prkaca/cdk5c, syde1/hsp90aa1}
\end{tikzpicture}
\end{document}
